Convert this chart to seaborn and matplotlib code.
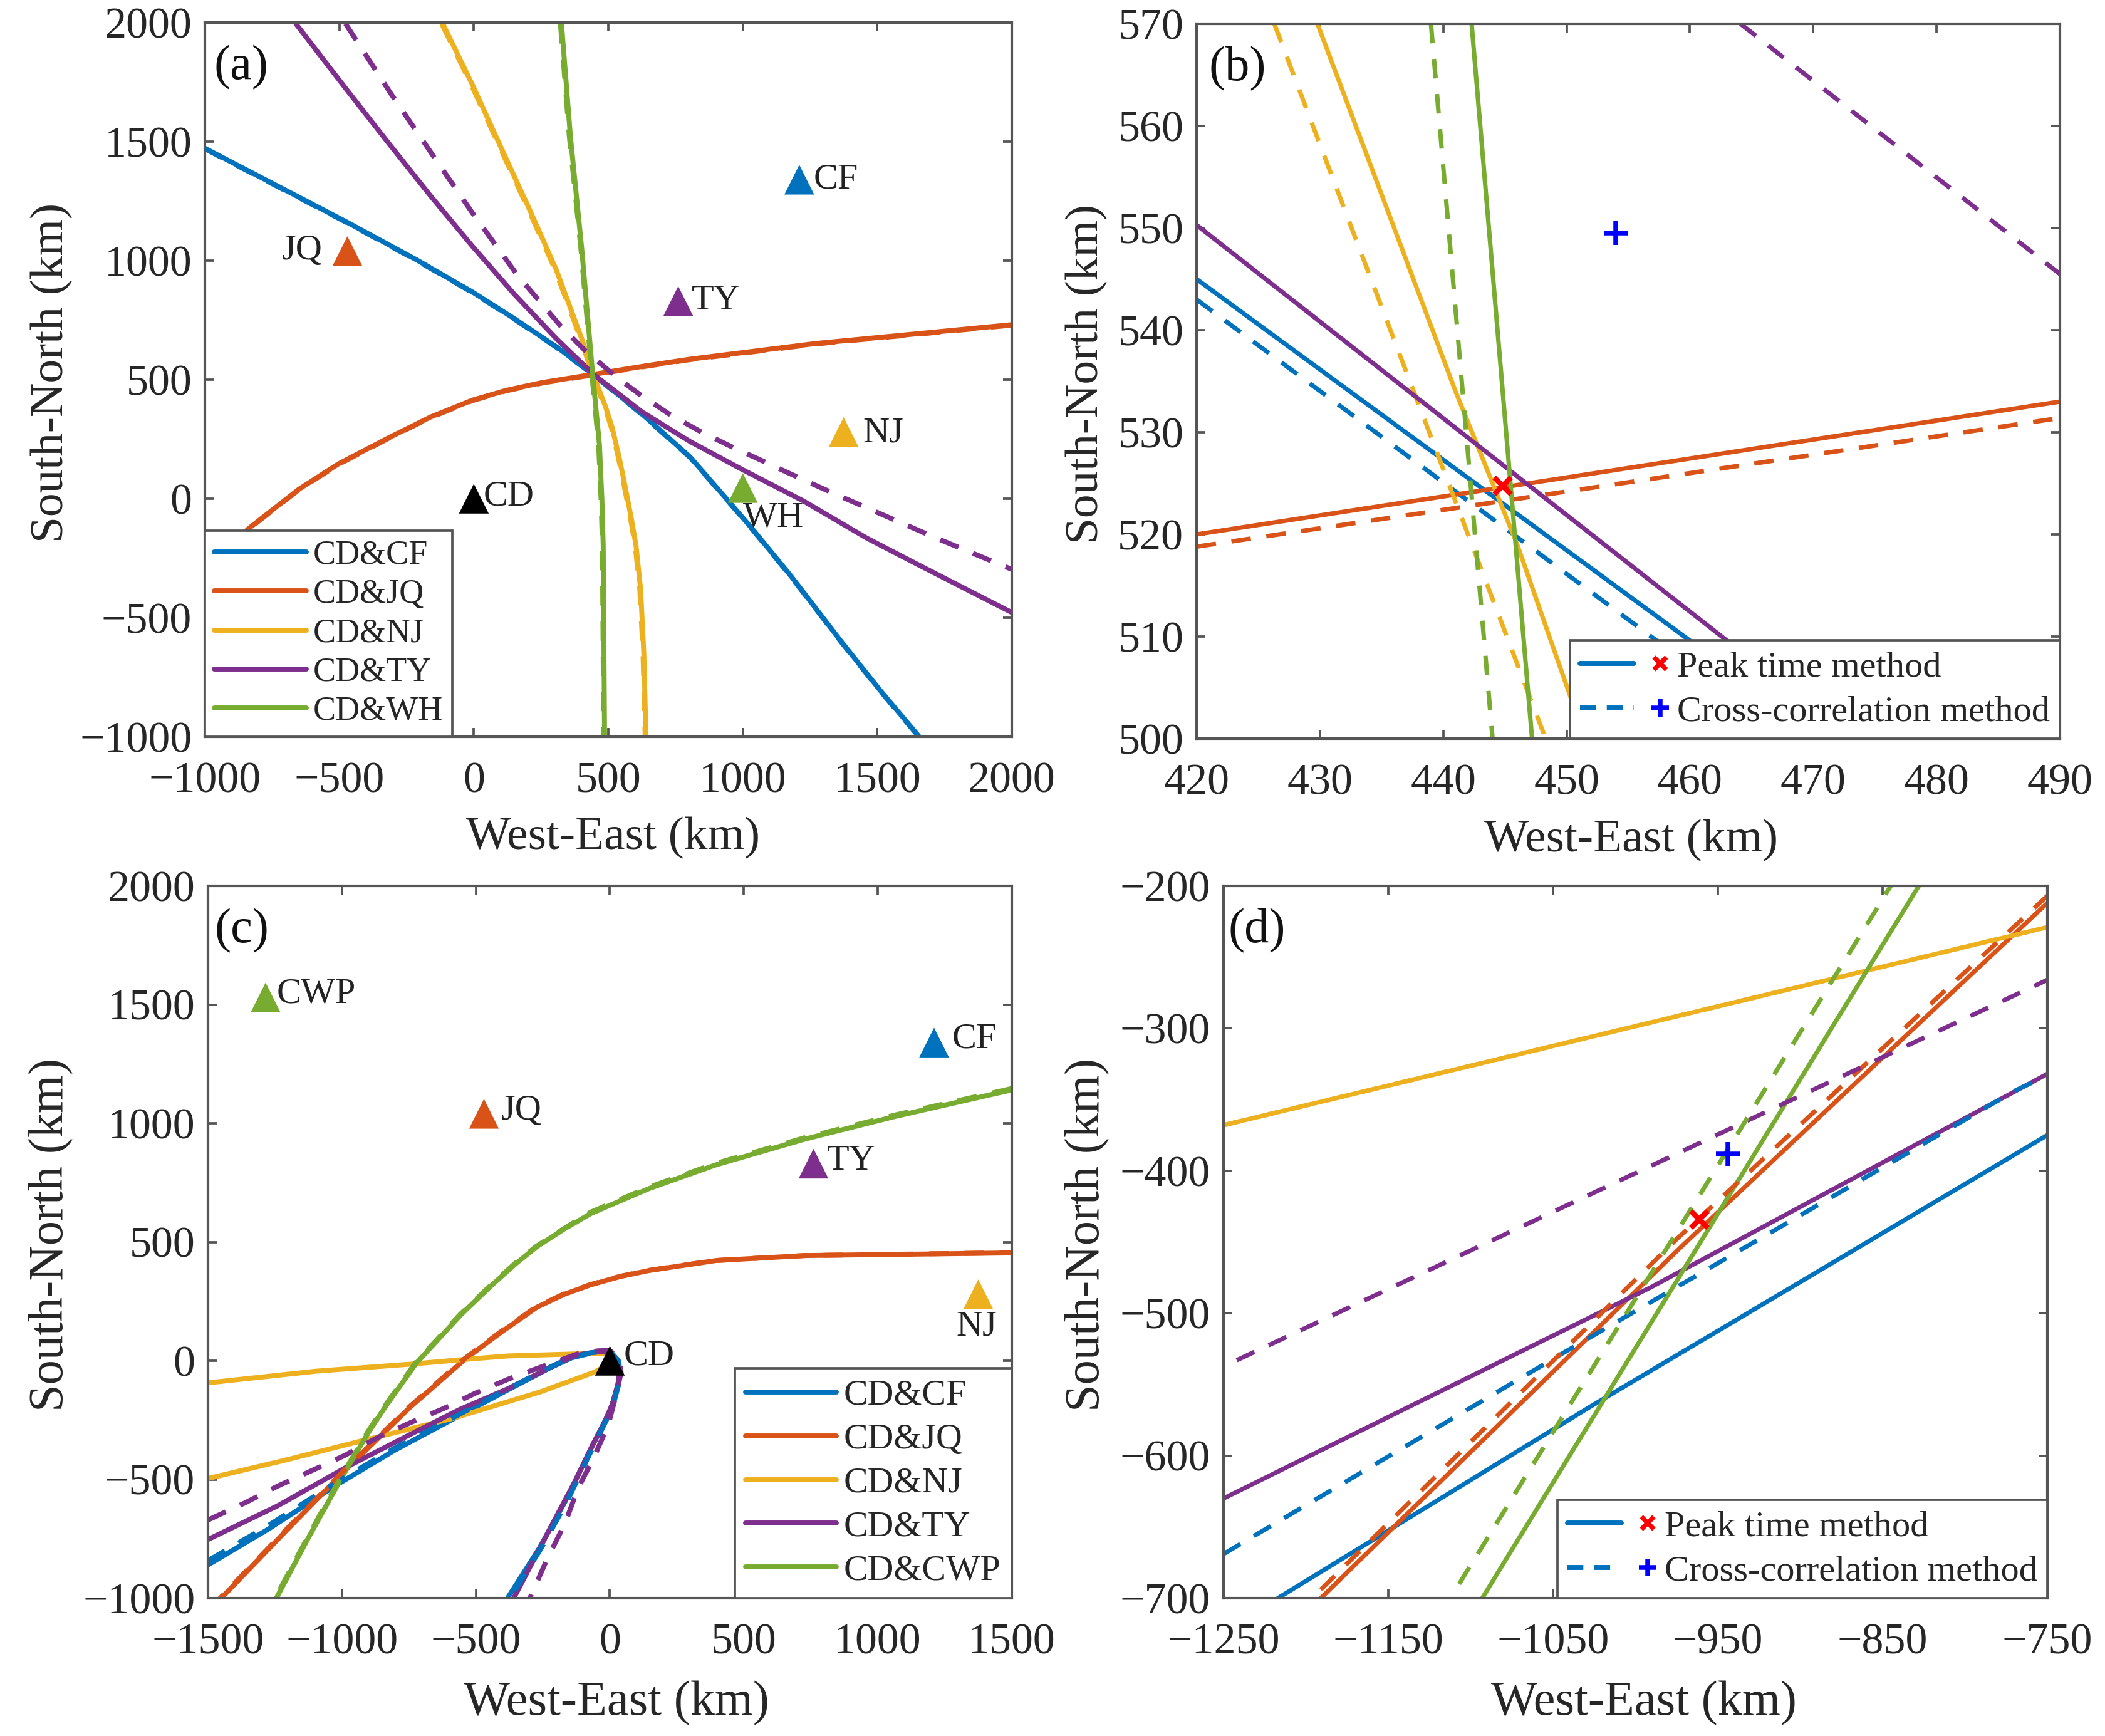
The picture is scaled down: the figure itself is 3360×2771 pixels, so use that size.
# Imports
import seaborn as sns
import matplotlib
matplotlib.use('Agg')
import matplotlib.pyplot as plt
from matplotlib.lines import Line2D
from matplotlib.legend_handler import HandlerTuple

# colours of the five station pairs
BLUE, ORANGE, YELLOW, PURPLE, GREEN = '#0072BD', '#D95319', '#EDB120', '#7E2F8E', '#77AC30'

# panel (a): curves, solid = peak time, dash = cross-correlation
a_cf_x = [-1000, -714, -474, -214, -5, 151, 307, 445, 626, 804, 935, 1034, 1179, 1366, 1507, 1656]
a_cf_y = [1472, 1304, 1163, 1004, 868, 756, 638, 522, 355, 175, 5, -125, -325, -600, -800, -1000]
a_cf_dx = [-1000, -714, -474, -214, -5, 151, 307, 445, 626, 804, 935, 1034, 1179, 1366, 1507, 1656]
a_cf_dy = [1470, 1302, 1161, 1002, 866, 754, 636, 520, 353, 173, 3, -127, -327, -602, -802, -1002]
a_jq_x = [-1000, -838, -650, -505, -318, -161, -5, 120, 255, 443, 639, 804, 1272, 2000]
a_jq_y = [-310, -126, 40, 145, 255, 343, 414, 455, 488, 522, 558, 586, 652, 731]
a_jq_dx = [-1000, -838, -650, -505, -318, -161, -5, 120, 255, 443, 639, 804, 1272, 2000]
a_jq_dy = [-312, -128, 38, 143, 253, 341, 412, 453, 486, 520, 556, 584, 650, 729]
a_nj_x = [-115, -5, 99, 203, 307, 401, 445, 458, 490, 514, 540, 561, 585, 603, 620, 632, 640]
a_nj_y = [1994, 1738, 1480, 1225, 960, 672, 522, 480, 385, 300, 175, 60, -80, -197, -380, -650, -1000]
a_nj_dx = [-119, -9, 95, 199, 303, 397, 441, 454, 487, 511, 537, 558, 582, 600, 617, 629, 637]
a_nj_dy = [1994, 1738, 1480, 1225, 960, 672, 522, 480, 385, 300, 175, 60, -80, -197, -380, -650, -1000]
a_ty_x = [-661, -474, -318, -161, -5, 151, 307, 445, 626, 804, 992, 1226, 1460, 1648, 1804, 2000]
a_ty_y = [1994, 1720, 1495, 1272, 1060, 858, 672, 522, 364, 240, 126, -10, -165, -275, -365, -478]
a_ty_dx = [-477, -307, -151, -5, 161, 323, 411, 505, 552, 618, 731, 846, 968, 1090, 1212, 1338, 1460, 1586, 1712, 2000]
a_ty_dy = [1995, 1699, 1440, 1200, 940, 725, 625, 535, 492, 437, 352, 280, 213, 150, 86, 22, -38, -100, -162, -297]
a_wh_x = [326, 359, 401, 441, 467, 476, 481, 486]
a_wh_y = [1994, 1522, 1051, 532, 226, 0, -197, -1000]
a_wh_dx = [322, 355, 398, 438, 464, 473, 478, 483]
a_wh_dy = [1994, 1522, 1051, 532, 226, 0, -197, -1000]

# panel (b)
b_cf_x, b_cf_y = [420, 460, 470], [545, 509.6, 500]
b_cf_dx, b_cf_dy = [420, 457.3, 467], [543, 509.6, 500]
b_jq_x, b_jq_y = [420, 490], [520, 533]
b_jq_dx, b_jq_dy = [420, 490], [518.8, 531.4]
b_nj_x, b_nj_y = [429.8, 441, 446, 451.5], [570, 534, 519, 500]
b_nj_dx, b_nj_dy = [426.3, 431, 448.3], [570, 555, 500]
b_ty_x, b_ty_y = [420, 463, 473], [550.3, 509.6, 500]
b_ty_dx, b_ty_dy = [464.1, 490], [570, 545.5]
b_wh_x, b_wh_y = [442.3, 447.2], [570, 500]
b_wh_dx, b_wh_dy = [439, 444], [570, 500]
b_peak = [444.8, 524.8]
b_cross = [454, 549.5]

# panel (c)
c_cf_x = [-1500, -1276, -1014, -800, -596, -381, -220, -143, -70, 0, 30, 36, 30, 5, -83, -167, -262, -381]
c_cf_y = [-860, -710, -519, -375, -252, -123, -28, 12, 32, 39, 0, -40, -100, -200, -399, -593, -787, -998]
c_cf_dx = [-1500, -1276, -1014, -800, -596, -381, -220, -143, -70, 0, 32, 38, 33, 9, -78, -160, -255, -372]
c_cf_dy = [-842, -695, -507, -366, -246, -119, -25, 15, 34, 41, 0, -40, -100, -200, -399, -593, -787, -998]
c_jq_x = [-1490, -1455, -1216, -990, -747, -539, -406, -273, -170, -71, 40, 146, 396, 730, 1498]
c_jq_y = [-1045, -1005, -725, -464, -197, 8, 120, 225, 280, 320, 355, 380, 422, 443, 454]
c_jq_dx = [-1494, -1459, -1220, -994, -751, -543, -410, -277, -174, -75, 36, 142, 392, 726, 1498]
c_jq_dy = [-1045, -1005, -725, -464, -197, 8, 120, 225, 280, 320, 355, 380, 422, 443, 455]
c_nj_x = [-1500, -1097, -739, -537, -381, -119, -24, 20, -60, -262, -584, -918, -1216, -1500]
c_nj_y = [-93, -44, -14, 6, 20, 29, 32, 0, -49, -132, -242, -335, -420, -496]
c_ty_x = [-1500, -1240, -978, -739, -560, -381, -143, -95, -40, 0, 28, 36, 32, 10, -20, -60, -131, -226, -358]
c_ty_y = [-753, -611, -445, -307, -205, -118, 16, 30, 38, 39, 5, -30, -90, -180, -260, -344, -510, -712, -998]
c_ty_dx = [-1500, -1359, -1240, -1115, -990, -870, -745, -620, -501, -376, -244, -107, -40, 0, 34, 42, 24, -6, -60, -119, -167, -233, -298]
c_ty_dy = [-671, -597, -528, -464, -399, -325, -261, -201, -136, -76, -21, 34, 42, 43, 10, -49, -141, -270, -408, -537, -684, -832, -998]
c_wp_x = [1498, 1065, 730, 396, 146, -71, -170, -273, -350, -439, -555, -723, -840, -900, -1000, -1125, -1245]
c_wp_y = [1140, 1029, 934, 825, 725, 620, 555, 480, 410, 320, 195, -11, -197, -300, -490, -745, -1000]
c_wp_dx = [1498, 1065, 730, 396, 146, -71, -174, -277, -354, -443, -559, -727, -844, -904, -1004, -1129, -1249]
c_wp_dy = [1146, 1035, 940, 831, 731, 626, 555, 480, 410, 320, 195, -11, -197, -300, -490, -745, -1000]

# panel (d)
d_cf_x, d_cf_y = [-1217, -1028, -750], [-700, -566, -375]
d_cf_dx, d_cf_dy = [-1250, -1044, -770, -750], [-669, -528, -344, -333]
d_jq_x, d_jq_y = [-1191, -971, -750], [-700, -452, -212]
d_jq_dx, d_jq_dy = [-1191, -975, -750], [-694, -448, -207]
d_nj_x, d_nj_y = [-1250, -750], [-368, -229]
d_ty_x, d_ty_y = [-1250, -991, -750], [-630, -482, -332]
d_ty_dx, d_ty_dy = [-1242, -750], [-533, -266]
d_wp_x, d_wp_y = [-1093, -828], [-700, -200]
d_wp_dx, d_wp_dy = [-1107, -845], [-690, -200]
d_peak = [-961.5, -434]
d_cross = [-944, -388]

# stations
st_names_a = ['CD', 'CF', 'JQ', 'TY', 'NJ', 'WH']
st_x_a = [0, 1210, -470, 760, 1375, 1000]
st_y_a = [0, 1340, 1040, 830, 280, 45]
st_names_c = ['CD', 'CF', 'JQ', 'TY', 'NJ', 'CWP']
st_x_c = [0, 1210, -470, 760, 1375, -1285]
st_y_c = [0, 1340, 1040, 830, 280, 1530]
st_colors = ['black', BLUE, ORANGE, PURPLE, YELLOW, GREEN]

# station label anchors (left edge except JQ in a and NJ in c)
lab_x_a = [36, 1263, -563, 810, 1446, 1001]
lab_y_a = [10, 1342, 1042, 832, 274, -80]
lab_ha_a = ['left', 'left', 'right', 'left', 'left', 'left']
lab_x_c = [52, 1277, -406, 810, 1368, -1244]
lab_y_c = [20, 1356, 1052, 842, 145, 1546]
lab_ha_c = ['left', 'left', 'left', 'left', 'center', 'left']

sns.set_theme(style='ticks')
plt.rcParams['font.family'] = ['Liberation Serif', 'DejaVu Serif']

DARK = '#555555'
W, H = 3360, 2771
fig = plt.figure(figsize=(W / 300, H / 300), dpi=300)


def make_axes(l, r, t, b):
    return fig.add_axes([l / W, 1 - b / H, (r - l) / W, (b - t) / H])


def draw(ax, x, y, color, lw, dashed=False):
    style = (0, (7.5 / lw, 6 / lw)) if dashed else '-'
    sns.lineplot(x=x, y=y, ax=ax, color=color, linewidth=lw, linestyle=style,
                 sort=False, estimator=None, errorbar=None, legend=False)


def stations(ax, xs, ys, names, lx, ly, ha):
    sns.scatterplot(x=xs, y=ys, ax=ax, hue=names, palette=dict(zip(names, st_colors)),
                    marker='^', s=130, linewidth=0, legend=False, zorder=5)
    for n, tx, ty, h in zip(names, lx, ly, ha):
        ax.text(tx, ty, n, ha=h, va='center', fontsize=14, color='#222222', zorder=6)


def finish(ax, xlim, ylim, xticks, yticks, letter, lx, xl, yl, lab_size):
    ax.set_xlim(xlim)
    ax.set_ylim(ylim)
    ax.set_xticks(xticks)
    ax.set_yticks(yticks)
    ax.tick_params(direction='in', length=3.4, width=0.9, color=DARK, labelsize=16.8,
                   labelcolor='#262626', top=True, right=True, pad=5)
    ax.tick_params(axis='x', pad=9.5)
    for s in ax.spines.values():
        s.set_color(DARK)
        s.set_linewidth(1.0)
    ax.set_xlabel('West-East (km)', fontsize=lab_size, color='#262626')
    ax.set_ylabel('South-North (km)', fontsize=lab_size, color='#262626')
    ax.xaxis.set_label_coords(xl[0], xl[1])
    ax.yaxis.set_label_coords(yl[0], yl[1])
    ax.text(lx, 0.937, letter, transform=ax.transAxes, fontsize=18.8, va='center', color='#111111')


def pair_legend(ax, labels, loc, size, hlen, spacing, pad):
    colors = [BLUE, ORANGE, YELLOW, PURPLE, GREEN]
    handles = [Line2D([], [], color=c, lw=1.9) for c in colors]
    leg = ax.legend(handles, labels, loc=loc, borderaxespad=0, fancybox=False, framealpha=1,
                    edgecolor=DARK, fontsize=size, handlelength=hlen, handletextpad=0.2,
                    labelspacing=spacing, borderpad=pad)
    leg.get_frame().set_linewidth(0.9)
    leg.set_zorder(10)


def method_legend(ax):
    h1 = (Line2D([], [], color=BLUE, lw=1.9),
          Line2D([], [], color='red', marker='x', ms=5, mew=1.8, ls=''))
    h2 = (Line2D([], [], color=BLUE, lw=1.9, ls=(0, (3.2, 2.2))),
          Line2D([], [], color='blue', marker='+', ms=6.5, mew=1.8, ls=''))
    leg = ax.legend([h1, h2], ['Peak time method', 'Cross-correlation method'],
                    handler_map={tuple: HandlerTuple(ndivide=None, pad=0)},
                    loc='lower right', borderaxespad=0, fancybox=False, framealpha=1,
                    edgecolor=DARK, fontsize=14, handlelength=2.93, handletextpad=-0.28,
                    labelspacing=0.32, borderpad=0.28)
    leg.get_frame().set_linewidth(0.9)
    leg.set_zorder(10)


# panel (a)
ax_a = make_axes(327, 1615, 36, 1176)
for x, y, dx, dy, c in [(a_cf_x, a_cf_y, a_cf_dx, a_cf_dy, BLUE), (a_jq_x, a_jq_y, a_jq_dx, a_jq_dy, ORANGE),
                        (a_nj_x, a_nj_y, a_nj_dx, a_nj_dy, YELLOW), (a_ty_x, a_ty_y, a_ty_dx, a_ty_dy, PURPLE),
                        (a_wh_x, a_wh_y, a_wh_dx, a_wh_dy, GREEN)]:
    draw(ax_a, x, y, c, 1.9)
    draw(ax_a, dx, dy, c, 1.9, dashed=True)
stations(ax_a, st_x_a, st_y_a, st_names_a, lab_x_a, lab_y_a, lab_ha_a)
finish(ax_a, (-1000, 2000), (-1000, 2000), range(-1000, 2001, 500), range(-1000, 2001, 500),
       '(a)', 0.011, (0.506, -0.112), (-0.164, 0.51), 18.1)
pair_legend(ax_a, ['CD&CF', 'CD&JQ', 'CD&NJ', 'CD&TY', 'CD&WH'], 'lower left', 13, 2.72, 0.22, 0.27)

# panel (b)
ax_b = make_axes(1910, 3288, 38, 1179)
for x, y, dx, dy, c in [(b_cf_x, b_cf_y, b_cf_dx, b_cf_dy, BLUE), (b_jq_x, b_jq_y, b_jq_dx, b_jq_dy, ORANGE),
                        (b_nj_x, b_nj_y, b_nj_dx, b_nj_dy, YELLOW), (b_ty_x, b_ty_y, b_ty_dx, b_ty_dy, PURPLE),
                        (b_wh_x, b_wh_y, b_wh_dx, b_wh_dy, GREEN)]:
    draw(ax_b, x, y, c, 1.7)
    draw(ax_b, dx, dy, c, 1.7, dashed=True)
sns.scatterplot(x=[b_peak[0]], y=[b_peak[1]], ax=ax_b, color='red', marker='x', s=42, linewidth=2, zorder=6)
sns.scatterplot(x=[b_cross[0]], y=[b_cross[1]], ax=ax_b, color='blue', marker='+', s=80, linewidth=1.8, zorder=6)
finish(ax_b, (420, 490), (500, 570), range(420, 491, 10), range(500, 571, 10),
       '(b)', 0.014, (0.503, -0.113), (-0.103, 0.51), 18.1)
method_legend(ax_b)

# panel (c)
ax_c = make_axes(332, 1615, 1414, 2551)
for x, y, c in [(c_cf_x, c_cf_y, BLUE), (c_jq_x, c_jq_y, ORANGE), (c_nj_x, c_nj_y, YELLOW),
                (c_ty_x, c_ty_y, PURPLE), (c_wp_x, c_wp_y, GREEN)]:
    draw(ax_c, x, y, c, 1.9)
for x, y, c in [(c_cf_dx, c_cf_dy, BLUE), (c_jq_dx, c_jq_dy, ORANGE), (c_ty_dx, c_ty_dy, PURPLE),
                (c_wp_dx, c_wp_dy, GREEN)]:
    draw(ax_c, x, y, c, 1.9, dashed=True)
stations(ax_c, st_x_c, st_y_c, st_names_c, lab_x_c, lab_y_c, lab_ha_c)
finish(ax_c, (-1500, 1500), (-1000, 2000), range(-1500, 1501, 500), range(-1000, 2001, 500),
       '(c)', 0.008, (0.508, -0.116), (-0.168, 0.51), 18.8)
pair_legend(ax_c, ['CD&CF', 'CD&JQ', 'CD&NJ', 'CD&TY', 'CD&CWP'], 'lower right', 13.9, 2.5, 0.3, 0.3)

# panel (d)
ax_d = make_axes(1953, 3268, 1414, 2551)
for x, y, c in [(d_cf_x, d_cf_y, BLUE), (d_jq_x, d_jq_y, ORANGE), (d_nj_x, d_nj_y, YELLOW),
                (d_ty_x, d_ty_y, PURPLE), (d_wp_x, d_wp_y, GREEN)]:
    draw(ax_d, x, y, c, 1.7)
for x, y, c in [(d_cf_dx, d_cf_dy, BLUE), (d_jq_dx, d_jq_dy, ORANGE), (d_nj_x, d_nj_y, YELLOW),
                (d_ty_dx, d_ty_dy, PURPLE), (d_wp_dx, d_wp_dy, GREEN)]:
    draw(ax_d, x, y, c, 1.7, dashed=True)
sns.scatterplot(x=[d_peak[0]], y=[d_peak[1]], ax=ax_d, color='red', marker='x', s=42, linewidth=2, zorder=6)
sns.scatterplot(x=[d_cross[0]], y=[d_cross[1]], ax=ax_d, color='blue', marker='+', s=80, linewidth=1.8, zorder=6)
finish(ax_d, (-1250, -750), (-700, -200), range(-1250, -749, 100), range(-700, -199, 100),
       '(d)', 0.006, (0.51, -0.116), (-0.139, 0.51), 18.8)
method_legend(ax_d)

fig.savefig('out.png', dpi=300)
